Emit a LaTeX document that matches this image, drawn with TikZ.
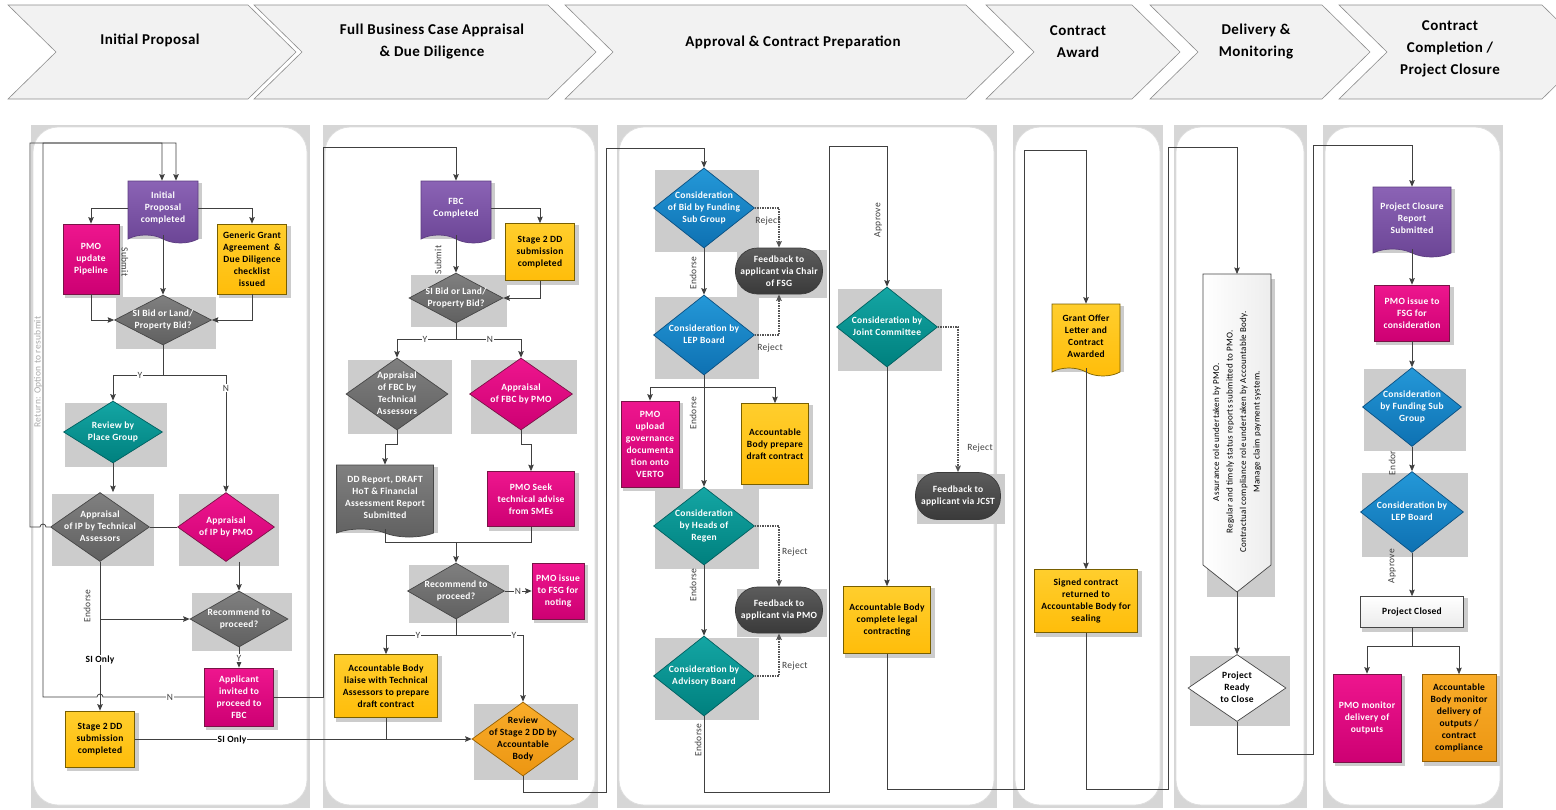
\documentclass[tikz,border=0pt]{standalone}
\usepackage{fontspec}
\setmainfont[LetterSpace=3]{Carlito}
\usepackage{tikz}
\usetikzlibrary{arrows,arrows.meta,positioning,calc}
\usetikzlibrary{shapes.geometric,shapes.symbols}

\definecolor{linec}{RGB}{64,64,64}
\definecolor{rejc}{RGB}{85,85,85}
\definecolor{shadowc}{RGB}{204,204,204}
\definecolor{laneg}{RGB}{214,214,214}
\definecolor{lanel}{RGB}{222,222,222}
\definecolor{chevf}{RGB}{242,242,242}
\definecolor{chevl}{RGB}{140,140,140}
\definecolor{purpT}{RGB}{139,99,181}\definecolor{purpB}{RGB}{107,69,149}\definecolor{purpL}{RGB}{92,61,128}
\definecolor{magT}{RGB}{238,22,142}\definecolor{magB}{RGB}{205,0,115}\definecolor{magL}{RGB}{120,20,70}
\definecolor{yelT}{RGB}{255,206,45}\definecolor{yelB}{RGB}{255,189,10}\definecolor{yelL}{RGB}{120,95,0}
\definecolor{oraT}{RGB}{249,172,42}\definecolor{oraB}{RGB}{236,150,18}\definecolor{oraL}{RGB}{150,95,0}
\definecolor{gryT}{RGB}{128,128,128}\definecolor{gryB}{RGB}{96,96,96}\definecolor{gryL}{RGB}{70,70,70}
\definecolor{tealT}{RGB}{20,166,164}\definecolor{tealB}{RGB}{0,128,126}\definecolor{tealL}{RGB}{0,95,95}
\definecolor{bluT}{RGB}{36,152,216}\definecolor{bluB}{RGB}{14,113,178}\definecolor{bluL}{RGB}{10,80,130}
\definecolor{drkT}{RGB}{92,92,92}\definecolor{drkB}{RGB}{58,58,58}
\definecolor{retc}{RGB}{170,170,170}

\pgfdeclarelayer{lanes}
\pgfdeclarelayer{background}
\pgfsetlayers{lanes,background,main}

\newcommand{\dl}[1]{\makebox[0pt]{\raisebox{-2.6pt}[0pt][0pt]{\begin{tabular}{@{}c@{}}#1\end{tabular}}}}

\tikzstyle{arrow} = [->,>={Stealth[length=6.5pt,width=5.5pt,inset=1pt]}]
\tikzstyle{line} = [draw=linec, line width=0.8pt]
\tikzstyle{reject} = [draw=rejc, line width=1.8pt, dash pattern=on 1.3pt off 1.2pt]
\tikzstyle{txt} = [font=\fontsize{9.5}{12}\selectfont\bfseries, align=center, inner sep=1pt, line width=0.7pt]
\tikzstyle{magbox} = [txt, rectangle, draw=magL, top color=magT, bottom color=magB, text=white]
\tikzstyle{yelbox} = [txt, rectangle, draw=yelL, top color=yelT, bottom color=yelB, text=black]
\tikzstyle{orabox} = [txt, rectangle, draw=oraL, top color=oraT, bottom color=oraB, text=black]
\tikzstyle{whbox} = [txt, rectangle, draw=gryL, top color=white, bottom color=black!8, text=black]
\tikzstyle{doc} = [txt, tape, tape bend top=none, tape bend bottom=out and in, tape bend height=8pt]
\tikzstyle{purdoc} = [doc, draw=purpL, top color=purpT, bottom color=purpB, text=white]
\tikzstyle{grydoc} = [doc, draw=gryL, top color=gryT, bottom color=gryB, text=white]
\tikzstyle{yeldoc} = [doc, draw=yelL, top color=yelT, bottom color=yelB, text=black]
\tikzstyle{dia} = [txt, diamond, inner sep=0pt]
\tikzstyle{grydia} = [dia, draw=gryL, top color=gryT, bottom color=gryB, text=white]
\tikzstyle{magdia} = [dia, draw=magL, top color=magT, bottom color=magB, text=white]
\tikzstyle{tealdia} = [dia, draw=tealL, top color=tealT, bottom color=tealB, text=white]
\tikzstyle{bludia} = [dia, draw=bluL, top color=bluT, bottom color=bluB, text=white]
\tikzstyle{oradia} = [dia, draw=oraL, top color=oraT, bottom color=oraB, text=black]
\tikzstyle{whdia} = [dia, draw=gryL, fill=white, text=black]
\tikzstyle{fb} = [txt, rectangle, rounded corners=22pt, draw=drkB, top color=drkT, bottom color=drkB, text=white]
\tikzstyle{head} = [font=\fontsize{15}{22}\selectfont\bfseries, align=center, text=black]
\tikzstyle{lbl} = [font=\fontsize{9.5}{11}\selectfont, text=linec, inner sep=1pt]
\tikzstyle{lblw} = [lbl, fill=white]
\tikzstyle{lblb} = [lbl, font=\fontsize{9.5}{11}\selectfont\bfseries, fill=white, text=black]

\begin{document}
\begin{tikzpicture}[x=1pt,y=-1pt]
\useasboundingbox (0,0) rectangle (1556,809);
\clip (0,0) rectangle (1556,809);

% phase chevrons
\foreach \l/\r in {8/248, 254/548, 565/966, 986/1132, 1150/1322, 1339/1542}
  \draw[fill=chevf, draw=chevl, line width=0.6pt] (\l,5) -- (\r,5) -- (\r+48,52) -- (\r,99) -- (\l,99) -- (\l+48,52) -- cycle;
\node[head] (hA) at (150,40) {Initial Proposal};
\node[head] (hB) at (432,42) {Full Business Case Appraisal\\\& Due Diligence};
\node[head] (hC) at (793,42) {Approval \& Contract Preparation};
\node[head] (hD) at (1078,42) {Contract\\Award};
\node[head] (hE) at (1256,42) {Delivery \&\\Monitoring};
\node[head] (hF) at (1450,49) {Contract\\Completion /\\Project Closure};

% swim lanes
\begin{pgfonlayer}{lanes}
\foreach \xa/\xb in {31/310, 323/598, 617/997, 1013/1163, 1174/1307, 1323/1503} {
  \fill[laneg] (\xa,125) rectangle (\xb,808);
  \draw[draw=lanel, fill=white, line width=0.8pt, rounded corners=25pt] (\xa+2,127) rectangle (\xb-3,805);
}
\end{pgfonlayer}

% initial proposal
\node[purdoc, minimum width=70pt, minimum height=62pt] (ip) at (163,208) {Initial\\Proposal\\completed};
\node[magbox, minimum width=56pt, minimum height=70pt] (pmoA) at (91,259) {PMO\\update\\Pipeline};
\node[yelbox, minimum width=69pt, minimum height=70pt] (gga) at (252,259) {Generic Grant\\Agreement \ \&\\Due Diligence\\checklist\\issued};
\node[grydia, minimum width=97pt, minimum height=50pt] (sibidA) at (163,320) {\dl{SI Bid or Land/\\Property Bid?}};
\node[tealdia, minimum width=99pt, minimum height=62pt] (place) at (113,432) {\dl{Review by\\Place Group}};
\node[grydia, minimum width=99pt, minimum height=69pt] (apTA) at (100,527) {\dl{Appraisal\\of IP by Technical\\Assessors}};
\node[magdia, minimum width=97pt, minimum height=69pt] (apPMO) at (226,527) {\dl{Appraisal\\of IP by PMO}};
\node[grydia, minimum width=98pt, minimum height=56pt] (recA) at (239,619) {\dl{Recommend to\\proceed?}};
\node[magbox, minimum width=69pt, minimum height=58pt] (invite) at (239,697) {Applicant\\invited to\\proceed to\\FBC};
\node[yelbox, minimum width=69pt, minimum height=56pt] (sddA) at (100,739) {Stage 2 DD\\submission\\completed};

% full business case
\node[purdoc, minimum width=70pt, minimum height=62pt] (fbc) at (456,208) {FBC\\Completed};
\node[yelbox, minimum width=69pt, minimum height=57pt] (sddB) at (540,252) {Stage 2 DD\\submission\\completed};
\node[grydia, minimum width=94pt, minimum height=50pt] (sibidB) at (456,298) {\dl{SI Bid or Land/\\Property Bid?}};
\node[grydia, minimum width=102pt, minimum height=72pt] (apFT) at (397,394) {\dl{Appraisal\\of FBC by\\Technical\\Assessors}};
\node[magdia, minimum width=103pt, minimum height=72pt] (apFP) at (521,394) {\dl{Appraisal\\of FBC by PMO}};
\node[grydoc, minimum width=97pt, minimum height=72pt] (ddrep) at (385,497) {DD Report, DRAFT\\HoT \& Financial\\Assessment Report\\Submitted};
\node[magbox, minimum width=87pt, minimum height=55pt] (seek) at (531,499) {PMO Seek\\technical advise\\from SMEs};
\node[grydia, minimum width=97pt, minimum height=56pt] (recB) at (456,591) {\dl{Recommend to\\proceed?}};
\node[magbox, minimum width=52pt, minimum height=56pt] (fsgnote) at (558,591) {PMO issue\\to FSG for\\noting};
\node[yelbox, minimum width=103pt, minimum height=63pt] (liaise) at (386,686) {Accountable Body\\liaise with Technical\\Assessors to prepare\\draft contract};
\node[oradia, minimum width=102pt, minimum height=74pt] (revB) at (523,739) {\dl{Review\\of Stage 2 DD by\\Accountable\\Body}};

% approval and contract preparation
\node[bludia, minimum width=101pt, minimum height=80pt] (cfsg) at (704,208) {\dl{Consideration\\of Bid by Funding\\Sub Group}};
\node[fb, minimum width=87pt, minimum height=46pt] (fbA) at (779,271) {Feedback to\\applicant via Chair\\of FSG};
\node[bludia, minimum width=101pt, minimum height=80pt] (clepA) at (704,335) {\dl{Consideration by\\LEP Board}};
\node[magbox, minimum width=58pt, minimum height=86pt] (verto) at (650,444) {PMO\\upload\\governance\\documenta\\tion onto\\VERTO};
\node[yelbox, minimum width=67pt, minimum height=81pt] (abdraft) at (775,444) {Accountable\\Body prepare\\draft contract};
\node[tealdia, minimum width=101pt, minimum height=78pt] (heads) at (704,526) {\dl{Consideration\\by Heads of\\Regen}};
\node[fb, minimum width=87pt, minimum height=46pt] (fbB) at (779,610) {Feedback to\\applicant via PMO};
\node[tealdia, minimum width=101pt, minimum height=80pt] (advis) at (704,676) {\dl{Consideration by\\Advisory Board}};
\node[tealdia, minimum width=101pt, minimum height=80pt] (jc) at (887,327) {\dl{Consideration by\\Joint Committee}};
\node[fb, minimum width=85pt, minimum height=47pt] (fbC) at (958,496) {Feedback to\\applicant via JCST};
\node[yelbox, minimum width=87pt, minimum height=67pt] (legal) at (887,620) {Accountable Body\\complete legal\\contracting};

% contract award
\node[yeldoc, minimum width=68pt, minimum height=72pt] (gol) at (1086,336) {Grant Offer\\Letter and\\Contract\\Awarded};
\node[yelbox, minimum width=103pt, minimum height=63pt] (signed) at (1086,601) {Signed contract\\returned to\\Accountable Body for\\sealing};

% delivery and monitoring
\coordinate (delivTop) at (1237,274);
\coordinate (delivTip) at (1237,592);
\fill[shadowc] (1207,279) rectangle (1275,597);
\draw[draw=gryL, line width=0.7pt, left color=white, right color=black!7] (1203,274) -- (1271,274) -- (1271,565) -- (delivTip) -- (1203,565) -- cycle;
\node[rotate=90, inner sep=1pt, align=center, font=\fontsize{9}{13.5}\selectfont, text=black] (deliv) at (1237,432)
  {Assurance role undertaken by PMO.\\Regular and timely status reports submitted to PMO.\\Contractual compliance role undertaken by Accountable Body.\\Manage claim payment system.};
\node[whdia, minimum width=98pt, minimum height=67pt] (ready) at (1237,688) {\dl{Project\\Ready\\to Close}};

% closure
\node[purdoc, minimum width=78pt, minimum height=70pt] (pcr) at (1412,218) {Project Closure\\Report\\Submitted};
\node[magbox, minimum width=75pt, minimum height=56pt] (fsgcons) at (1412,313) {PMO issue to\\FSG for\\consideration};
\node[bludia, minimum width=99pt, minimum height=79pt] (cfsgB) at (1412,407) {\dl{Consideration\\by Funding Sub\\Group}};
\node[bludia, minimum width=103pt, minimum height=81pt] (clepB) at (1412,512) {\dl{Consideration by\\LEP Board}};
\node[whbox, minimum width=103pt, minimum height=31pt] (closed) at (1412,612) {Project Closed};
\node[magbox, minimum width=68pt, minimum height=88pt] (pmomon) at (1367,718) {PMO monitor\\delivery of\\outputs};
\node[orabox, minimum width=74pt, minimum height=87pt] (abmon) at (1459,718) {Accountable\\Body monitor\\delivery of\\outputs /\\contract\\compliance};

% grey blocks behind the shapes
\begin{pgfonlayer}{background}
\foreach \n in {ip,pmoA,gga,sibidA,place,apTA,apPMO,recA,invite,sddA,fbc,sddB,sibidB,apFT,apFP,ddrep,seek,recB,fsgnote,liaise,revB,
                cfsg,fbA,clepA,verto,abdraft,heads,fbB,advis,jc,fbC,legal,gol,signed,ready,pcr,fsgcons,cfsgB,clepB,closed,pmomon,abmon}
  \fill[shadowc] ($(\n.west |- \n.north)+(2,2)$) rectangle ($(\n.east |- \n.south)+(4,4)$);
\end{pgfonlayer}

% coordinates for the long returns
\coordinate (retA) at (176,143);
\coordinate (retB) at (162,143);
\coordinate (splitA) at (163,375);
\coordinate (endA) at (100,619);
\coordinate (toB) at (323,147);
\coordinate (splitB) at (456,339);
\coordinate (joinB) at (456,542);
\coordinate (splitC) at (456,635);
\coordinate (downC) at (606,792);
\coordinate (upC) at (606,148);
\coordinate (splitD) at (704,387);
\coordinate (downD) at (829,792);
\coordinate (upD) at (829,146);
\coordinate (downE) at (1024,789);
\coordinate (upE) at (1024,150);
\coordinate (downF) at (1168,789);
\coordinate (upF) at (1168,147);
\coordinate (downG) at (1313,754);
\coordinate (upG) at (1313,145);
\coordinate (splitH) at (1412,646);

% initial proposal flow
\draw[line,arrow] (ip.west) -| (pmoA.north);
\draw[line,arrow] (ip.east) -| (gga.north);
\draw[line,arrow] (ip.south) -- (sibidA.north);
\draw[line,arrow] (pmoA.south) |- (sibidA.west);
\draw[line,arrow] (gga.south) |- (sibidA.east);
\draw[line] (sibidA.south) -- (splitA);
\draw[line,arrow] (splitA) -| (place.north);
\draw[line,arrow] (splitA) -| (apPMO.north);
\draw[line,arrow] (place.south) -- (place.south |- apTA.north);
\draw[line] (apTA.east) -- (apPMO.west);
\draw[line,arrow] (recA.north |- apPMO.south) -- (recA.north);
\draw[line,arrow] (apTA.south) -- (sddA.north);
\draw[line,arrow] (endA) -- (recA.west);
\draw[line,arrow] (recA.south) -- (invite.north);
\draw[line,arrow] (apTA.west) -- (46,527) arc[start angle=0,end angle=-180,radius=3] -- (30,527) -- (30,143) -- (retA) -- (retA |- ip.north);
\draw[line,arrow] (invite.west) -- (103,697) arc[start angle=0,end angle=-180,radius=3] -- (43,697) -- (43,143) -- (retB) -- (retB |- ip.north);
\draw[line,arrow] (sddA.east) -- (revB.west);
\draw[line,arrow] (invite.east) -| (toB) -| (fbc.north);

% full business case flow
\draw[line,arrow] (fbc.east) -| (sddB.north);
\draw[line,arrow] (fbc.south) -- (sibidB.north);
\draw[line,arrow] (sddB.south) |- (sibidB.east);
\draw[line] (sibidB.south) -- (splitB);
\draw[line,arrow] (splitB) -| (apFT.north);
\draw[line,arrow] (splitB) -| (apFP.north);
\draw[line,arrow] (apFT.south) -- ++(0,14) -| (ddrep.north);
\draw[line,arrow] (apFP.south) -- ++(0,14) -| (seek.north);
\draw[line] (ddrep.south) |- (joinB);
\draw[line] (seek.south) |- (joinB);
\draw[line,arrow] (joinB) -- (recB.north);
\draw[line,arrow] (recB.east) -- (fsgnote.west);
\draw[line] (recB.south) -- (splitC);
\draw[line,arrow] (splitC) -| (liaise.north);
\draw[line,arrow] (splitC) -| (revB.north);
\draw[line] (liaise.south) -- (liaise.south |- revB.west);
\draw[line,arrow] (revB.south) |- (downC) -- (upC) -| (cfsg.north);

% approval flow
\draw[line,arrow] (cfsg.south) -- (clepA.north);
\draw[reject,arrow] (cfsg.east) -| (fbA.north);
\draw[reject,arrow] (clepA.east) -| (fbA.south);
\draw[line] (clepA.south) -- (splitD);
\draw[line,arrow] (splitD) -| (verto.north);
\draw[line,arrow] (splitD) -| (abdraft.north);
\draw[line,arrow] (splitD) -- (heads.north);
\draw[line,arrow] (heads.south) -- (advis.north);
\draw[reject,arrow] (heads.east) -| (fbB.north);
\draw[reject,arrow] (advis.east) -| (fbB.south);
\draw[line,arrow] (advis.south) |- (downD) -- (upD) -| (jc.north);
\draw[reject,arrow] (jc.east) -| (fbC.north);
\draw[line,arrow] (jc.south) -- (legal.north);
\draw[line,arrow] (legal.south) |- (downE) -- (upE) -| (gol.north);

% award, delivery, closure
\draw[line,arrow] (gol.south) -- (signed.north);
\draw[line,arrow] (signed.south) |- (downF) -- (upF) -| (delivTop);
\draw[line,arrow] (delivTip) -- (ready.north);
\draw[line,arrow] (ready.south) |- (downG) -- (upG) -| (pcr.north);
\draw[line,arrow] (pcr.south) -- (fsgcons.north);
\draw[line,arrow] (fsgcons.south) -- (cfsgB.north);
\draw[line,arrow] (cfsgB.south) -- (clepB.north);
\draw[line,arrow] (clepB.south) -- (closed.north);
\draw[line] (closed.south) -- (splitH);
\draw[line,arrow] (splitH) -| (pmomon.north);
\draw[line,arrow] (splitH) -| (abmon.north);

% connector labels
\node[lbl, text=retc, rotate=90, font=\fontsize{9.5}{11}\selectfont] (lRet) at (38,372) {Return: Option to resubmit};
\node[lbl, rotate=-90] (lSubA) at (125,262) {Submit};
\node[lblw] (lYa) at (140,375) {Y};
\node[lblw] (lNa) at (226,388) {N};
\node[lbl, rotate=90] (lEndA) at (87,606) {Endorse};
\node[lblb] (lSIa) at (100,660) {SI Only};
\node[lblw] (lYb) at (239,658) {Y};
\node[lblw] (lNb) at (170,697) {N};
\node[lblb] (lSIb) at (232,740) {SI Only};
\node[lbl, rotate=90] (lSubB) at (438,260) {Submit};
\node[lblw] (lYc) at (425,339) {Y};
\node[lblw] (lNc) at (490,339) {N};
\node[lblw] (lNd) at (518,591) {N};
\node[lblw] (lYd) at (418,635) {Y};
\node[lblw] (lYe) at (514,635) {Y};
\node[lbl, rotate=90] (lEndB) at (693,273) {Endorse};
\node[lbl] (lRejA) at (768,221) {Reject};
\node[lbl] (lRejB) at (770,348) {Reject};
\node[lbl, rotate=90] (lEndC) at (693,413) {Endorse};
\node[lbl, rotate=90] (lEndD) at (693,585) {Endorse};
\node[lbl, anchor=west] (lRejC) at (781,552) {Reject};
\node[lbl, anchor=west] (lRejD) at (781,666) {Reject};
\node[lbl, rotate=90] (lEndE) at (698,740) {Endorse};
\node[lbl, rotate=90] (lAppA) at (878,220) {Approve};
\node[lbl] (lRejE) at (980,448) {Reject};
\node[lbl, rotate=90] (lEndF) at (1392,463) {Endor};
\node[lbl, rotate=90] (lAppB) at (1392,566) {Approve};
\end{tikzpicture}
\end{document}
